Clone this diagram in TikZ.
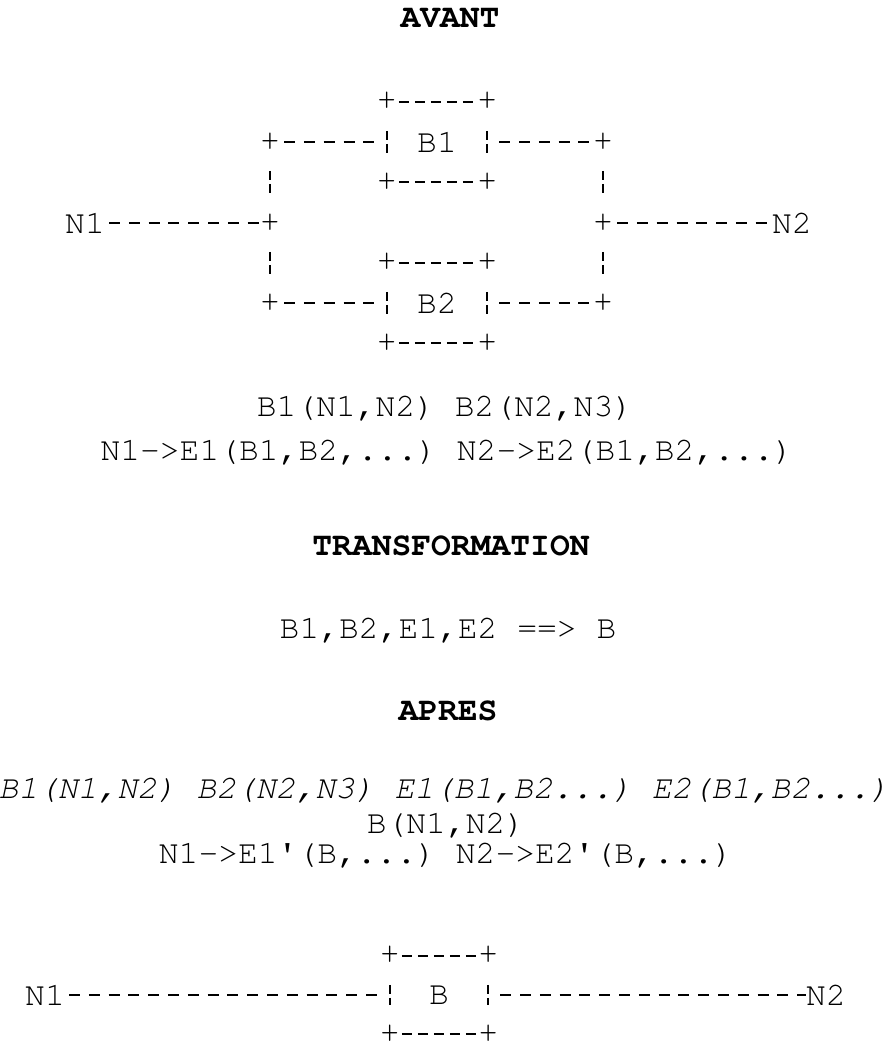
\documentclass[tikz,border=0pt]{standalone}
\usepackage[T1,TU]{fontenc}
\usetikzlibrary{positioning, calc}
\newcommand{\courfont}{\fontencoding{T1}\fontfamily{pcr}\fontsize{33}{40}\selectfont\frenchspacing}

\begin{document}
\begin{tikzpicture}[x=1pt, y=-1pt,
    txt/.style={font=\courfont, inner sep=0pt, anchor=base},
    head/.style={txt, font=\courfont\bfseries},
    plus/.style={font=\courfont, inner sep=0pt},
    blk/.style={font=\courfont, inner sep=0pt, minimum width=100pt, minimum height=80pt},
    hwire/.style={line width=1.8pt, dash pattern=on 11pt off 8.8pt, dash phase=15.8pt},
    boxedge/.style={line width=1.8pt, dash pattern=on 10pt off 6pt, dash phase=14pt},
    vbar/.style={line width=1.6pt, dash pattern=on 9pt off 4pt on 9pt off 200pt, shorten <=29pt, shorten >=29pt},
]
\useasboundingbox (0,0) rectangle (890,1048);

% Avant
\node[head] (avant) at (450,28) {AVANT};
\node[blk] (B1) at (437,142) {B1};
\node[blk] (B2) at (437,303) {B2};
\node[plus] (N1a) at (85,223) {N1};
\node[plus] (N2a) at (792,223) {N2};
\foreach \nm/\px/\py in {j1/270/142, jl/270/223, j3/270/303, j2/603/142, jr/603/223, j4/603/303}
    \node[plus] (\nm) at (\px,\py) {+};

\draw[hwire] (N1a) -- (jl);
\draw[hwire] (jr) -- (N2a);
\draw[hwire, shorten >=8pt] (j1) -- (B1.west);
\draw[hwire, shorten <=8pt] (B1.east) -- (j2);
\draw[hwire, shorten >=8pt] (j3) -- (B2.west);
\draw[hwire, shorten <=8pt] (B2.east) -- (j4);
\draw[vbar] (j1.center) -- (jl.center);
\draw[vbar] (jl.center) -- (j3.center);
\draw[vbar] (j2.center) -- (jr.center);
\draw[vbar] (jr.center) -- (j4.center);

\node[txt] (relAvant) at (445,416) {B1(N1,N2) B2(N2,N3)};
\node[txt] (extAvant) at (447,460) {N1->E1(B1,B2,...) N2->E2(B1,B2,...)};

% Transformation
\node[head] (transf) at (451,555) {TRANSFORMATION};
\node[txt] (regle) at (448,638) {B1,B2,E1,E2 ==> B};

% Apres
\node[head] (apres) at (448,720) {APRES};
\node[txt, font=\courfont\slshape] (oldRel) at (444,798) {B1(N1,N2) B2(N2,N3) E1(B1,B2...) E2(B1,B2...)};
\node[txt] (newRel) at (446,833) {B(N1,N2)};
\node[txt] (extApres) at (446,863) {N1->E1\textquotesingle(B,...) N2->E2\textquotesingle(B,...)};

\node[blk, minimum width=98pt, minimum height=78pt] (B) at (439,995) {B};
\node[plus] (N1b) at (45,995) {N1};
\node[plus] (N2b) at (826,995) {N2};
\draw[hwire, shorten >=8pt] (N1b) -- (B.west);
\draw[hwire, shorten <=8pt] (B.east) -- (N2b);

% box corners
\foreach \b in {B1,B2,B} {
    \node[plus] (\b-nw) at (\b.north west) {+};
    \node[plus] (\b-ne) at (\b.north east) {+};
    \node[plus] (\b-sw) at (\b.south west) {+};
    \node[plus] (\b-se) at (\b.south east) {+};
    \draw[boxedge] (\b-nw) -- (\b-ne);
    \draw[boxedge] (\b-sw) -- (\b-se);
    \draw[vbar] (\b-nw.center) -- (\b-sw.center);
    \draw[vbar] (\b-ne.center) -- (\b-se.center);
}
\end{tikzpicture}
\end{document}
